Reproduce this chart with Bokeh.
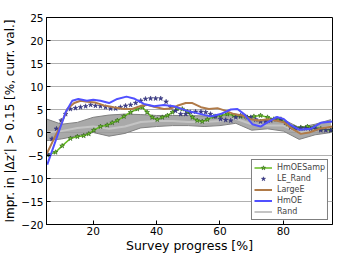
from bokeh.plotting import figure
from bokeh.models import Range1d, FixedTicker, CustomJSTickFormatter, Legend
from bokeh.embed import file_html
from bokeh.resources import INLINE

# Rand band (mean and spread)
rand_x = [5, 10, 15, 20, 25, 30, 35, 40, 45, 50, 55, 60, 65, 70, 75, 80, 85, 90, 95]
rand_mean = [0.0, 0.3, 1.0, 1.3, 0.8, 1.3, 2.3, 2.5, 2.5, 2.3, 2.3, 2.5, 3.0, 1.8, 1.5, 1.5, 0.0, 0.6, 1.3]
rand_upper = [3.0, 1.8, 2.2, 3.3, 3.8, 4.0, 3.9, 3.7, 3.7, 3.7, 3.6, 3.7, 4.0, 2.8, 2.6, 2.8, 1.1, 1.8, 2.8]
rand_lower = [-1.8, -1.4, -0.7, 0.0, -0.8, -0.2, 1.0, 1.3, 1.5, 1.5, 1.3, 1.5, 2.0, 0.5, 0.8, 0.3, -1.5, -0.5, 0.0]

# HmOE
hmoe_x = [5.5, 11.3, 13.4, 15.3, 18, 20, 22.3, 25, 27.6, 30.5, 32.8, 36, 39.2, 42.3, 45.5, 49.7, 54, 57,
          60.2, 63.4, 65.5, 67.6, 70.2, 72.8, 75.5, 78, 80.2, 82.3, 85, 88.6, 91.8, 95.5]
hmoe_y = [-7.0, 4.4, 6.9, 7.3, 6.9, 7.1, 6.9, 6.4, 7.3, 7.8, 7.4, 6.2, 5.7, 6.0, 5.7, 4.7, 4.0, 3.5,
          4.0, 5.0, 5.1, 4.0, 1.8, 1.3, 2.4, 3.4, 2.9, 1.6, 0.6, 0.8, 2.1, 2.4]

# LargeE
large_x = [5.3, 7.6, 9.7, 11.8, 14, 16, 18.1, 20.7, 23.4, 26.5, 29.7, 32.3, 35, 37, 39.2, 42.3, 44.4, 46.5,
           49.2, 51.3, 54, 56.5, 59.2, 61.8, 64.4, 67, 69.7, 72.3, 75, 77.6, 80.2, 82.8, 85.5, 88.1, 91.3, 95.5]
large_y = [-4.7, -1.4, 1.5, 5.1, 6.4, 6.9, 6.7, 6.5, 5.9, 5.5, 5.1, 5.1, 5.8, 6.0, 5.6, 5.1, 5.2, 5.8,
           6.4, 6.4, 5.5, 5.1, 5.3, 4.7, 4.0, 3.7, 2.9, 2.6, 2.9, 2.6, 2.2, 0.8, -0.3, 0.0, 0.8, 1.3]

# HmOESamp
samp_x = [5.5, 8.1, 10.2, 12.8, 15, 17, 18.6, 20.2, 22.3, 24.4, 26, 27.6, 29.7, 31.8, 33.9, 35.5, 37, 38.6,
          40.2, 41.8, 43.4, 45, 46.5, 48.1, 49.7, 51.3, 52.8, 54.4, 56, 58.1, 60.2, 62.3, 64.4, 66.5, 68.6,
          70.7, 72.8, 75, 77, 79.2, 81.3, 83.4, 85.5, 87.6, 89.7, 91.8, 95]
samp_y = [-4.9, -4.3, -2.9, -1.3, -0.9, -0.7, -0.3, 0.5, 1.3, 1.6, 2.1, 2.6, 3.5, 4.4, 5.1, 5.5, 4.4, 3.3,
          2.8, 3.3, 3.7, 4.4, 5.2, 5.1, 4.5, 3.3, 2.6, 2.4, 2.8, 3.5, 3.7, 4.0, 3.7, 3.5, 3.3,
          3.5, 3.7, 3.3, 2.9, 2.8, 1.8, 1.1, 1.1, 1.3, 1.1, 0.8, 0.5]

# LE_Rand
le_x = [5.5, 7, 8.4, 9.9, 11.3, 12.8, 14.4, 16, 17.6, 19.2, 20.7, 22.3, 23.9, 25.5, 27.1, 28.6, 30.2, 31.8,
        33.4, 35, 36.5, 38.1, 39.7, 41.3, 43, 44.4, 46, 47.6, 49.2, 50.7, 52.3, 54, 55.5, 57, 58.6, 60.2,
        61.8, 63.4, 65, 66.5, 68.1, 69.7, 71.3, 72.8, 74.4, 76, 77.6, 79.2, 80.7, 82.3, 83.9, 85.5, 87,
        88.6, 90.2, 91.8, 93.4, 95]
le_y = [-4.7, -1.4, 0.8, 2.6, 4.0, 5.1, 5.3, 5.5, 5.7, 6.0, 5.8, 5.7, 5.5, 5.2, 5.2, 5.5, 5.8, 6.0,
        6.4, 6.9, 7.3, 7.4, 7.4, 7.4, 6.7, 5.5, 4.7, 4.0, 4.0, 4.4, 4.5, 4.5, 4.4, 4.0, 3.5, 2.9,
        2.7, 2.6, 3.3, 3.7, 3.5, 3.3, 2.8, 2.4, 2.4, 2.6, 2.9, 2.9, 2.1, 1.1, 0.9, 0.9, 0.9,
        0.8, 0.8, 0.5, 0.5, 0.5]

x_ticks = [20, 40, 60, 80]
y_ticks = [-20, -15, -10, -5, 0, 5, 10, 15, 20, 25]

FONT = "DejaVu Sans"

p = figure(frame_width=286, frame_height=207, output_backend="svg", toolbar_location=None,
           x_range=Range1d(5.26, 95.5), y_range=Range1d(-20, 25),
           min_border_left=38, min_border_right=3, min_border_top=17, min_border_bottom=24)

p.outline_line_color = "black"
p.outline_line_width = 1
p.xgrid.visible = False
p.ygrid.grid_line_color = "#b0b0b0"
p.ygrid.grid_line_width = 1
p.ygrid.ticker = FixedTicker(ticks=y_ticks)

for ax in (p.xaxis[0], p.yaxis[0]):
    ax.axis_line_color = "black"
    ax.major_tick_in = 4
    ax.major_tick_out = 0
    ax.minor_tick_line_color = None
    ax.major_label_text_font = FONT
    ax.major_label_text_font_size = "10.5px"
    ax.major_label_text_color = "black"
    ax.axis_label_text_font = FONT
    ax.axis_label_text_font_style = "normal"
    ax.axis_label_text_color = "black"

p.xaxis.major_label_standoff = 2
p.xaxis.axis_label_standoff = 0
p.yaxis.major_label_standoff = 3
p.yaxis.axis_label_standoff = 1

p.xaxis.ticker = FixedTicker(ticks=x_ticks)
p.yaxis.ticker = FixedTicker(ticks=y_ticks)
p.yaxis.formatter = CustomJSTickFormatter(code="return tick < 0 ? '\u2212' + (-tick) : '' + tick;")
p.xaxis.axis_label = "Survey progress [%]"
p.yaxis.axis_label = "Impr. in |Δz′| > 0.15 [%, curr. val.]"
p.xaxis.axis_label_text_font_size = "12.5px"
p.yaxis.axis_label_text_font_size = "12px"

# Rand band
p.varea(x=rand_x, y1=rand_lower, y2=rand_upper, fill_color="#9a9a9a", fill_alpha=0.85)
p.line(rand_x, rand_upper, line_color="#808080", line_width=1)
p.line(rand_x, rand_lower, line_color="#808080", line_width=1)
r_rand = p.line(rand_x, rand_mean, line_color="#c4c4c4", line_width=2)

# HmOESamp
r_samp_l = p.line(samp_x, samp_y, line_color="#66bb22", line_width=1.5)
r_samp_m = p.scatter(samp_x, samp_y, marker="star", size=5, fill_color="#77cc33",
                     line_color="#2a5a14", line_width=0.6)

# LE_Rand
r_le = p.scatter(le_x, le_y, marker="star", size=5, fill_color="#3a3a8c",
                 line_color="#2a2a70", line_width=0.5)

# LargeE
r_large = p.line(large_x, large_y, line_color="#b07a48", line_width=2)

# HmOE
r_hmoe = p.line(hmoe_x, hmoe_y, line_color="#5050ff", line_width=2)

legend = Legend(items=[
    ("HmOESamp", [r_samp_l, r_samp_m]),
    ("LE_Rand", [r_le]),
    ("LargeE", [r_large]),
    ("HmOE", [r_hmoe]),
    ("Rand", [r_rand]),
], location="bottom_right")
legend.label_text_font = FONT
legend.label_text_font_size = "8px"
legend.label_height = 11
legend.glyph_height = 11
legend.glyph_width = 18
legend.label_standoff = 5
legend.spacing = 0
legend.padding = 2
legend.margin = 4
legend.border_line_color = "black"
legend.border_line_width = 1
legend.background_fill_alpha = 1
p.add_layout(legend)

open("out.html", "w").write(file_html(p, INLINE))
